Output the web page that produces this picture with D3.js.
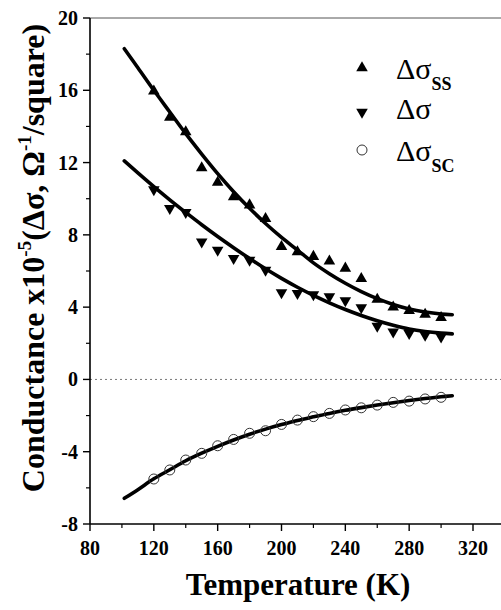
<!DOCTYPE html>
<html>
<head>
<meta charset="utf-8">
<script src="https://cdn.jsdelivr.net/npm/d3@7"></script>
<style>
  body { margin: 0; background: #fff; }
</style>
</head>
<body>
<div id="chart"></div>
<script>
// measured data (temperature in K, conductance x1e-5)
var temps = [120, 130, 140, 150, 160, 170, 180, 190, 200, 210, 220, 230, 240, 250, 260, 270, 280, 290, 300];
var sigmaSS = [15.95, 14.5, 13.7, 11.7, 10.9, 10.1, 9.65, 8.9, 7.35, 7.05, 6.8, 6.55, 6.15, 5.57, 4.43, 4.0, 3.8, 3.6, 3.42];
var sigma   = [10.5, 9.47, 9.25, 7.62, 7.16, 6.7, 6.6, 6.05, 4.8, 4.76, 4.7, 4.58, 4.36, 3.97, 2.95, 2.64, 2.55, 2.46, 2.36];
var sigmaSC = [-5.51, -5.01, -4.46, -4.09, -3.67, -3.32, -2.98, -2.84, -2.49, -2.25, -2.06, -1.88, -1.69, -1.57, -1.42, -1.27, -1.2, -1.08, -0.99];

// fitted curves
var fitT   = [101.5, 110, 120, 130, 140, 150, 160, 170, 180, 190, 200, 210, 220, 230, 240, 250, 260, 270, 280, 290, 300, 307];
var fitSS  = [18.3, 17.25, 16.0, 14.8, 13.6, 12.47, 11.39, 10.39, 9.47, 8.63, 7.86, 7.16, 6.45, 5.85, 5.32, 4.86, 4.47, 4.15, 3.9, 3.73, 3.62, 3.58];
var fitS   = [12.09, 11.43, 10.67, 9.94, 9.24, 8.56, 7.91, 7.29, 6.69, 6.12, 5.59, 5.1, 4.65, 4.24, 3.87, 3.54, 3.25, 3.0, 2.79, 2.65, 2.56, 2.52];
var fitSC  = [-6.58, -6.1, -5.5, -5.0, -4.5, -4.08, -3.7, -3.35, -3.03, -2.75, -2.5, -2.27, -2.07, -1.88, -1.71, -1.56, -1.42, -1.29, -1.17, -1.06, -0.96, -0.9];

var xTicks = [80, 120, 160, 200, 240, 280, 320];
var xMinor = [100, 140, 180, 220, 260, 300];
var yTicks = [-8, -4, 0, 4, 8, 12, 16, 20];
var yMinor = [-6, -2, 2, 6, 10, 14, 18];

var width = 501, height = 610;
var serif = '"Liberation Serif", "DejaVu Serif", serif';

var svg = d3.select('#chart').append('svg')
  .attr('width', width)
  .attr('height', height)
  .attr('font-family', serif);

var x = d3.scaleLinear().domain([80, 320]).range([90, 473]);
var y = d3.scaleLinear().domain([-8, 20]).range([524, 18]);

// top frame line
svg.append('line')
  .attr('x1', x(80)).attr('x2', width)
  .attr('y1', y(20)).attr('y2', y(20))
  .attr('stroke', '#555').attr('stroke-width', 1);

// zero line
svg.append('line')
  .attr('x1', x(80)).attr('x2', width)
  .attr('y1', y(0)).attr('y2', y(0))
  .attr('stroke', '#777').attr('stroke-width', 1)
  .attr('stroke-dasharray', '2,3');

// x axis
var gx = svg.append('g').attr('transform', 'translate(0,' + y(-8) + ')');
gx.append('line').attr('x1', x(80)).attr('x2', width).attr('stroke', '#000').attr('stroke-width', 1.6);
gx.selectAll('.maj').data(xTicks).enter().append('line')
  .attr('x1', d => x(d)).attr('x2', d => x(d)).attr('y1', 0).attr('y2', 7)
  .attr('stroke', '#000').attr('stroke-width', 1.4);
gx.selectAll('.min').data(xMinor).enter().append('line')
  .attr('x1', d => x(d)).attr('x2', d => x(d)).attr('y1', 0).attr('y2', 4)
  .attr('stroke', '#000').attr('stroke-width', 1.2);
gx.selectAll('.lab').data(xTicks).enter().append('text')
  .attr('x', d => x(d)).attr('y', 31)
  .attr('text-anchor', 'middle')
  .attr('font-family', serif)
  .style('font-size', '20px').style('font-weight', 'bold')
  .text(d => d);

// y axis
var gy = svg.append('g').attr('transform', 'translate(' + x(80) + ',0)');
gy.append('line').attr('y1', y(-8)).attr('y2', y(20)).attr('stroke', '#000').attr('stroke-width', 1.6);
gy.selectAll('.maj').data(yTicks).enter().append('line')
  .attr('y1', d => y(d)).attr('y2', d => y(d)).attr('x1', 0).attr('x2', -7)
  .attr('stroke', '#000').attr('stroke-width', 1.4);
gy.selectAll('.min').data(yMinor).enter().append('line')
  .attr('y1', d => y(d)).attr('y2', d => y(d)).attr('x1', 0).attr('x2', -4)
  .attr('stroke', '#000').attr('stroke-width', 1.2);
gy.selectAll('.lab').data(yTicks).enter().append('text')
  .attr('x', -12).attr('y', d => y(d) + 7)
  .attr('text-anchor', 'end')
  .attr('font-family', serif)
  .style('font-size', '20px').style('font-weight', 'bold')
  .text(d => d);

// axis titles
svg.append('text')
  .attr('x', 298).attr('y', 595)
  .attr('text-anchor', 'middle')
  .attr('font-family', serif)
  .style('font-size', '31px').style('font-weight', 'bold')
  .text('Temperature (K)');

var yl = svg.append('text')
  .attr('transform', 'translate(44,258) rotate(-90)')
  .attr('text-anchor', 'middle')
  .attr('font-family', serif)
  .style('font-size', '32px').style('font-weight', 'bold');
yl.append('tspan').text('Conductance x10');
yl.append('tspan').attr('dy', -13).style('font-size', '19px').text('-5');
yl.append('tspan').attr('dy', 13).text('(Δσ, Ω');
yl.append('tspan').attr('dy', -13).style('font-size', '19px').text('-1');
yl.append('tspan').attr('dy', 13).text('/square)');

// fitted curves
var line = d3.line().curve(d3.curveCatmullRom.alpha(0.5))
  .x(d => x(d[0])).y(d => y(d[1]));

[fitSS, fitS, fitSC].forEach(function(fit) {
  svg.append('path')
    .datum(fitT.map((t, i) => [t, fit[i]]))
    .attr('d', line)
    .attr('fill', 'none')
    .attr('stroke', '#000')
    .attr('stroke-width', 3.6)
    .attr('stroke-linecap', 'round');
});

// markers
var tri = d3.symbol().type(d3.symbolTriangle).size(58);

svg.selectAll('.ss').data(temps).enter().append('path')
  .attr('d', tri)
  .attr('transform', (d, i) => 'translate(' + x(d) + ',' + y(sigmaSS[i]) + ')')
  .attr('fill', '#000');

svg.selectAll('.s').data(temps).enter().append('path')
  .attr('d', tri)
  .attr('transform', (d, i) => 'translate(' + x(d) + ',' + y(sigma[i]) + ') rotate(180)')
  .attr('fill', '#000');

svg.selectAll('.sc').data(temps).enter().append('circle')
  .attr('cx', d => x(d))
  .attr('cy', (d, i) => y(sigmaSC[i]))
  .attr('r', 5)
  .attr('fill', 'none')
  .attr('stroke', '#333')
  .attr('stroke-width', 1);

// legend
var legend = svg.append('g');
legend.append('path').attr('d', tri).attr('transform', 'translate(362,68)').attr('fill', '#000');
legend.append('path').attr('d', tri).attr('transform', 'translate(362,112) rotate(180)').attr('fill', '#000');
legend.append('circle').attr('cx', 362).attr('cy', 150).attr('r', 5)
  .attr('fill', 'none').attr('stroke', '#333').attr('stroke-width', 1);

var rows = [{y: 79, sub: 'SS'}, {y: 119, sub: ''}, {y: 161, sub: 'SC'}];
rows.forEach(function(r) {
  var t = legend.append('text').attr('x', 396).attr('y', r.y)
    .attr('font-family', serif).style('font-size', '30px');
  t.append('tspan').text('Δσ');
  if (r.sub) {
    t.append('tspan').attr('dy', 11).style('font-size', '18px').style('font-weight', 'bold').text(r.sub);
  }
});
</script>
</body>
</html>
